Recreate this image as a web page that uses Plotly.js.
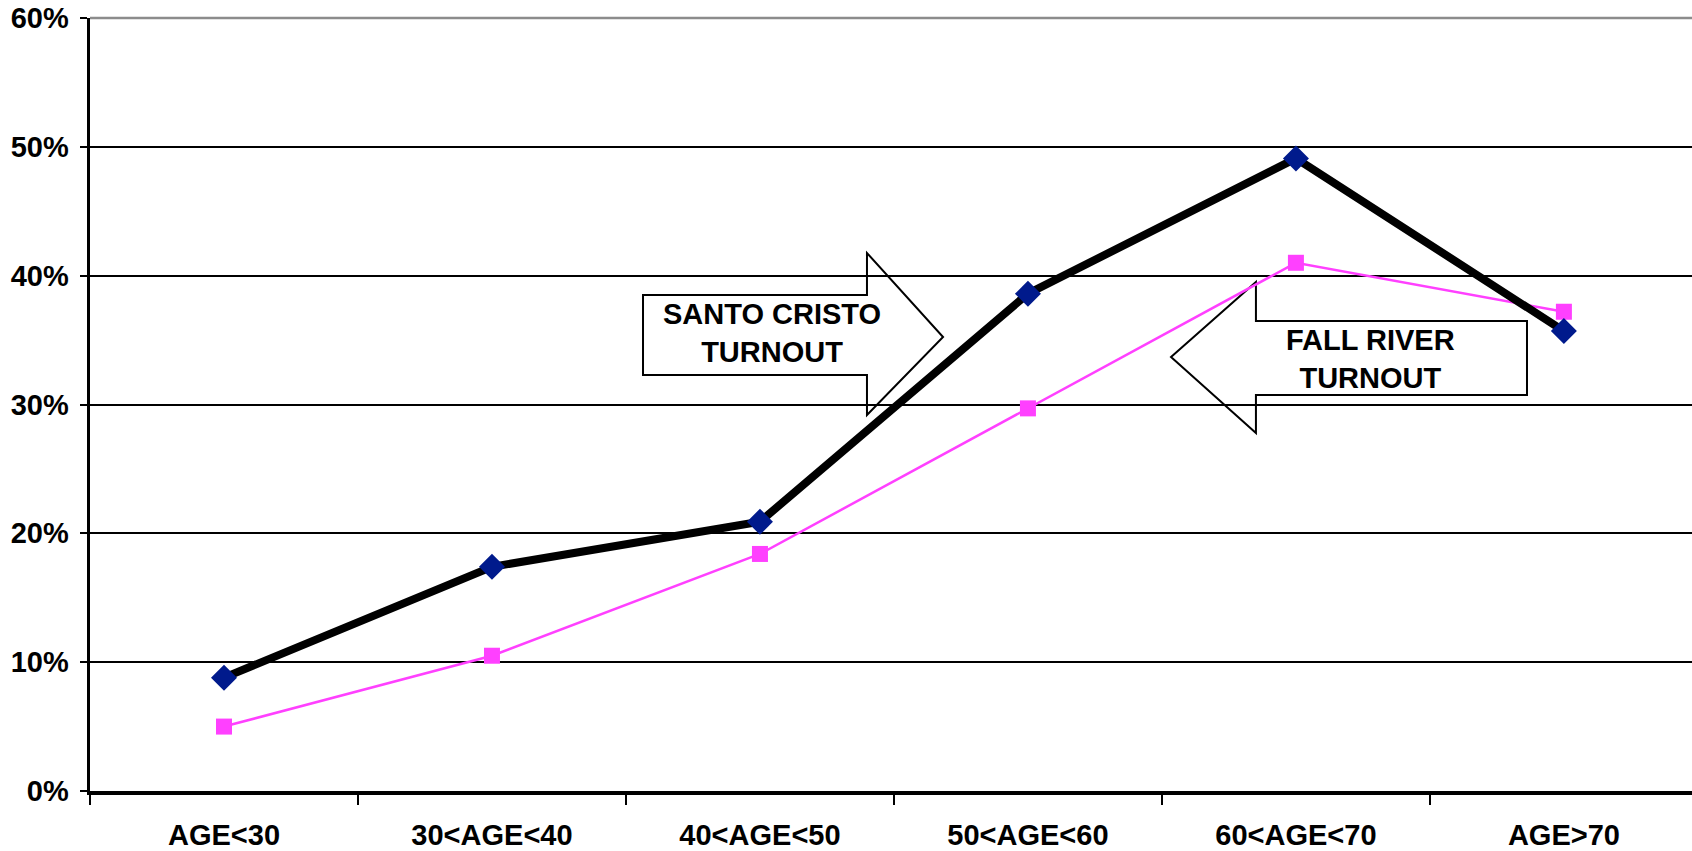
<!DOCTYPE html>
<html><head><meta charset="utf-8">
<script src="https://cdn.plot.ly/plotly-3.0.1.min.js"></script>
<style>html,body{margin:0;padding:0;background:#fff}#chart{width:1692px;height:851px}</style>
</head><body><div id="chart"></div>
<script>
const categories = ['AGE<30','30<AGE<40','40<AGE<50','50<AGE<60','60<AGE<70','AGE>70'];
const santoCristo = [8.8, 17.4, 20.9, 38.6, 49.1, 35.7];
const fallRiver = [5.0, 10.5, 18.4, 29.7, 41.0, 37.2];
const santoLabel = 'SANTO CRISTO<br>TURNOUT';
const fallLabel = 'FALL RIVER<br>TURNOUT';

const FONT = '"Liberation Sans", Arial, sans-serif';
const FS = 29;

const traces = [
  {x: categories, y: fallRiver, type: 'scatter', mode: 'lines+markers', name: 'Fall River',
   line: {color: '#ff40ff', width: 2.5},
   marker: {symbol: 'square', size: 16, color: '#ff40ff'}},
  {x: categories, y: santoCristo, type: 'scatter', mode: 'lines+markers', name: 'Santo Cristo',
   line: {color: '#000000', width: 8},
   marker: {symbol: 'diamond', size: 20, color: '#001a8c'}}
];

function arrowRight(x0, x1, x2, yb0, yb1, yh0, yh1, ytip) {
  return `M${x0},${yb0} L${x1},${yb0} L${x1},${yh0} L${x2},${ytip} L${x1},${yh1} L${x1},${yb1} L${x0},${yb1} Z`;
}

const shapes = [
  {type: 'line', xref: 'paper', yref: 'paper', x0: 0, x1: 1, y0: 1, y1: 1,
   line: {color: '#8c8c8c', width: 2.5}, layer: 'between'},
  {type: 'path', xref: 'paper', yref: 'paper', layer: 'between',
   path: arrowRight(0.3452, 0.4850, 0.5325, 0.6417, 0.5382, 0.6960, 0.4864, 0.5873),
   fillcolor: '#ffffff', line: {color: '#000000', width: 2}},
  {type: 'path', xref: 'paper', yref: 'paper', layer: 'between',
   path: arrowRight(0.8970, 0.7278, 0.6748, 0.6080, 0.5123, 0.6585, 0.4631, 0.5615),
   fillcolor: '#ffffff', line: {color: '#000000', width: 2}}
];

const annotations = [
  {xref: 'paper', yref: 'paper', x: 0.4257, y: 0.5925, text: santoLabel, showarrow: false,
   xanchor: 'center', yanchor: 'middle', align: 'center',
   font: {family: FONT, size: FS, color: '#000', weight: 'bold'}},
  {xref: 'paper', yref: 'paper', x: 0.7996, y: 0.5595, text: fallLabel, showarrow: false,
   xanchor: 'center', yanchor: 'middle', align: 'center',
   font: {family: FONT, size: FS, color: '#000', weight: 'bold'}}
];

const layout = {
  width: 1692, height: 851,
  margin: {l: 90, r: 0, t: 18, b: 60, pad: 0},
  paper_bgcolor: '#ffffff', plot_bgcolor: '#ffffff',
  showlegend: false,
  font: {family: FONT, size: FS, color: '#000', weight: 'bold'},
  xaxis: {
    type: 'category', range: [-0.5, 5.478],
    showgrid: false, zeroline: false,
    showline: true, linecolor: '#000', linewidth: 3.5,
    ticks: 'outside', tickson: 'boundaries', ticklen: 10, tickwidth: 2, tickcolor: '#000',
    ticklabelstandoff: 16,
    tickfont: {family: FONT, size: FS, color: '#000', weight: 'bold'}
  },
  yaxis: {
    range: [0, 60], dtick: 10, tick0: 0, ticksuffix: '%',
    showgrid: true, gridcolor: '#000', gridwidth: 2,
    zeroline: false,
    showline: true, linecolor: '#000', linewidth: 3.5,
    ticks: 'outside', ticklen: 7, tickwidth: 2, tickcolor: '#000',
    ticklabelstandoff: 5,
    tickfont: {family: FONT, size: FS, color: '#000', weight: 'bold'}
  },
  shapes: shapes,
  annotations: annotations
};

Plotly.newPlot('chart', traces, layout, {displayModeBar: false, staticPlot: true});
</script>
</body></html>
